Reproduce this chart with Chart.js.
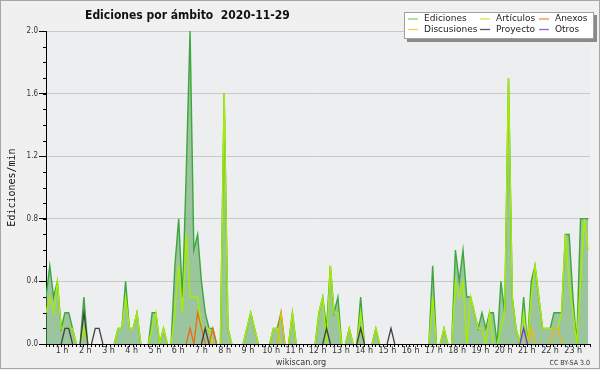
<!DOCTYPE html>
<html>
<head>
<meta charset="utf-8">
<script src="https://cdn.jsdelivr.net/npm/chart.js@4.4.0/dist/chart.umd.min.js"></script>
<style>
  html, body { margin: 0; padding: 0; background: #f0f0f0; }
</style>
</head>
<body>
<canvas id="chart" width="600" height="370"></canvas>
<script>
// Ediciones por ámbito, 2020-11-29
// one value per 10 minute slot (edits per minute), 6 slots per hour, 12 per row
const ediciones = [
  0.3, 0.5, 0.3, 0.4, 0.1, 0.2, 0.2, 0.1, 0, 0, 0.3, 0,
  0, 0, 0, 0, 0, 0, 0, 0.1, 0.1, 0.4, 0.1, 0.1,
  0.2, 0, 0, 0, 0.2, 0.2, 0, 0.1, 0, 0, 0.5, 0.8,
  0.3, 1.1, 2.0, 0.6, 0.7, 0.4, 0.2, 0.1, 0.1, 0, 0, 1.6,
  0.1, 0, 0, 0, 0, 0.1, 0.2, 0.1, 0, 0, 0, 0,
  0.1, 0.1, 0.2, 0, 0, 0.2, 0, 0, 0, 0, 0, 0,
  0.2, 0.3, 0.1, 0.5, 0.2, 0.3, 0, 0, 0.1, 0, 0, 0.3,
  0, 0, 0, 0.1, 0, 0, 0, 0, 0, 0, 0, 0,
  0, 0, 0, 0, 0, 0, 0.5, 0, 0, 0.1, 0, 0,
  0.6, 0.4, 0.6, 0.3, 0.3, 0.2, 0.1, 0.2, 0.1, 0.2, 0.2, 0,
  0.4, 0.2, 1.7, 0.3, 0.1, 0, 0.3, 0, 0.4, 0.5, 0.3, 0.1,
  0.1, 0.1, 0.2, 0.2, 0.2, 0.7, 0.7, 0.3, 0, 0.8, 0.8, 0.8,
];
const articulos = [
  0.2, 0.3, 0.2, 0.4, 0.1, 0.1, 0.1, 0.1, 0, 0, 0.1, 0,
  0, 0, 0, 0, 0, 0, 0, 0.1, 0.1, 0.3, 0.1, 0.1,
  0.2, 0, 0, 0, 0.1, 0.2, 0, 0.1, 0, 0, 0.2, 0.5,
  0.2, 0.7, 0.3, 0.3, 0.3, 0.1, 0.1, 0.1, 0, 0, 0, 1.6,
  0.1, 0, 0, 0, 0, 0.1, 0.2, 0.1, 0, 0, 0, 0,
  0.1, 0.1, 0, 0, 0, 0.2, 0, 0, 0, 0, 0, 0,
  0.2, 0.3, 0, 0.5, 0.2, 0.2, 0, 0, 0.1, 0, 0, 0.2,
  0, 0, 0, 0.1, 0, 0, 0, 0, 0, 0, 0, 0,
  0, 0, 0, 0, 0, 0, 0.3, 0, 0, 0.1, 0, 0,
  0.4, 0.3, 0.4, 0, 0.3, 0.2, 0.1, 0.1, 0, 0.2, 0, 0,
  0.1, 0.2, 1.7, 0.3, 0.1, 0, 0.2, 0, 0.3, 0.5, 0.3, 0.1,
  0.1, 0.1, 0.1, 0.1, 0.2, 0.7, 0.4, 0.2, 0, 0.4, 0.8, 0.6,
];
const anexos = [
  0, 0, 0, 0, 0, 0, 0, 0, 0, 0, 0, 0,
  0, 0, 0, 0, 0, 0, 0, 0, 0, 0, 0, 0,
  0, 0, 0, 0, 0, 0, 0, 0, 0, 0, 0, 0,
  0, 0, 0.1, 0, 0.2, 0.1, 0, 0, 0.1, 0, 0, 0,
  0, 0, 0, 0, 0, 0, 0, 0, 0, 0, 0, 0,
  0, 0, 0, 0, 0, 0, 0, 0, 0, 0, 0, 0,
  0, 0, 0, 0, 0, 0, 0, 0, 0, 0, 0, 0,
  0, 0, 0, 0, 0, 0, 0, 0, 0, 0, 0, 0,
  0, 0, 0, 0, 0, 0, 0, 0, 0, 0, 0, 0,
  0, 0, 0, 0, 0, 0, 0, 0, 0, 0, 0, 0,
  0, 0, 0, 0, 0, 0, 0, 0, 0, 0, 0, 0,
  0, 0, 0, 0, 0, 0, 0, 0, 0, 0, 0, 0,
];
const discusiones = [
  0, 0, 0, 0, 0, 0, 0, 0, 0, 0, 0, 0,
  0, 0, 0, 0, 0, 0, 0, 0, 0, 0, 0, 0,
  0, 0, 0, 0, 0, 0, 0, 0, 0, 0, 0, 0,
  0, 0, 0, 0, 0, 0, 0, 0, 0, 0, 0, 0,
  0, 0, 0, 0, 0, 0, 0, 0, 0, 0, 0, 0,
  0, 0, 0.2, 0, 0, 0, 0, 0, 0, 0, 0, 0,
  0, 0, 0, 0, 0, 0, 0, 0, 0, 0, 0, 0,
  0, 0, 0, 0, 0, 0, 0, 0, 0, 0, 0, 0,
  0, 0, 0, 0, 0, 0, 0, 0, 0, 0, 0, 0,
  0, 0, 0, 0, 0, 0, 0, 0, 0, 0, 0, 0,
  0, 0, 0, 0, 0, 0, 0, 0, 0.1, 0, 0, 0,
  0, 0, 0.1, 0.1, 0, 0, 0, 0, 0, 0, 0, 0,
];
const proyecto = [
  0, 0, 0, 0, 0, 0.1, 0.1, 0, 0, 0, 0.2, 0,
  0, 0.1, 0.1, 0, 0, 0, 0, 0, 0, 0, 0, 0,
  0, 0, 0, 0, 0, 0, 0, 0, 0, 0, 0, 0,
  0, 0, 0, 0, 0, 0, 0.1, 0, 0, 0, 0, 0,
  0, 0, 0, 0, 0, 0, 0, 0, 0, 0, 0, 0,
  0, 0, 0, 0, 0, 0, 0, 0, 0, 0, 0, 0,
  0, 0, 0.1, 0, 0, 0, 0, 0, 0, 0, 0, 0.1,
  0, 0, 0, 0, 0, 0, 0, 0.1, 0, 0, 0, 0,
  0, 0, 0, 0, 0, 0, 0, 0, 0, 0, 0, 0,
  0, 0, 0, 0, 0, 0, 0, 0, 0, 0, 0, 0,
  0, 0, 0, 0, 0, 0, 0, 0, 0, 0, 0, 0,
  0, 0, 0, 0, 0, 0, 0, 0, 0, 0, 0, 0,
];
const otros = [
  0, 0, 0, 0, 0, 0, 0, 0, 0, 0, 0, 0,
  0, 0, 0, 0, 0, 0, 0, 0, 0, 0, 0, 0,
  0, 0, 0, 0, 0, 0, 0, 0, 0, 0, 0, 0,
  0, 0, 0, 0, 0, 0, 0, 0, 0, 0, 0, 0,
  0, 0, 0, 0, 0, 0, 0, 0, 0, 0, 0, 0,
  0, 0, 0, 0, 0, 0, 0, 0, 0, 0, 0, 0,
  0, 0, 0, 0, 0, 0, 0, 0, 0, 0, 0, 0,
  0, 0, 0, 0, 0, 0, 0, 0, 0, 0, 0, 0,
  0, 0, 0, 0, 0, 0, 0, 0, 0, 0, 0, 0,
  0, 0, 0, 0, 0, 0, 0, 0, 0, 0, 0, 0,
  0, 0, 0, 0, 0, 0, 0.1, 0, 0, 0, 0, 0,
  0, 0, 0, 0, 0, 0, 0, 0, 0, 0, 0, 0,
];

// x positions: 10 minute slot index; hour labels 1..23
const slots = ediciones.map((_, i) => i);
const hours = [1, 2, 3, 4, 5, 6, 7, 8, 9, 10, 11, 12, 13, 14, 15, 16, 17, 18, 19, 20, 21, 22, 23];
const yMajorTicks = [0, 0.4, 0.8, 1.2, 1.6, 2.0];
const yMinorStep = 0.1;
const yMax = 2.0;

const chartTitle = 'Ediciones por ámbito  2020-11-29';

const colors = {
  ediciones: '#3da63d',
  edicionesFill: 'rgba(96, 168, 96, 0.58)',
  articulos: '#a8ec00',
  anexos: '#ee6a16',
  discusiones: '#f2b705',
  proyecto: '#404040',
  otros: '#7d2fe0',
};
// legend samples are drawn lighter than the lines
const legendItems = [
  { label: 'Ediciones', color: '#84cc84' },
  { label: 'Artículos', color: '#c8ec50' },
  { label: 'Anexos', color: '#f4845a' },
  { label: 'Discusiones', color: '#f7cd4a' },
  { label: 'Proyecto', color: '#5a5a5a' },
  { label: 'Otros', color: '#9a5cf0' },
];

// hide segments lying on the x axis
const hideZero = {
  borderColor: (ctx) => (ctx.p0.parsed.y === 0 && ctx.p1.parsed.y === 0 ? 'rgba(0,0,0,0)' : undefined),
};

function series(label, data, color, order, width) {
  return {
    label: label,
    data: data,
    borderColor: color,
    borderWidth: width,
    pointRadius: 0,
    tension: 0,
    fill: false,
    order: order,
    segment: hideZero,
  };
}

const backdrop = {
  id: 'backdrop',
  beforeDraw(chart) {
    const { ctx, chartArea } = chart;
    ctx.save();
    ctx.fillStyle = '#f0f0f0';
    ctx.fillRect(0, 0, chart.width, chart.height);
    ctx.fillStyle = '#eceef0';
    ctx.fillRect(chartArea.left, chartArea.top, chartArea.right - chartArea.left, chartArea.bottom - chartArea.top);
    ctx.strokeStyle = '#a6a6a6';
    ctx.lineWidth = 1;
    ctx.strokeRect(0.5, 0.5, chart.width - 1, chart.height - 2);
    ctx.restore();
  },
};

const minorTicks = {
  id: 'minorTicks',
  afterDraw(chart) {
    const y = chart.scales.y;
    const ctx = chart.ctx;
    ctx.save();
    ctx.strokeStyle = '#000';
    ctx.lineWidth = 1;
    ctx.beginPath();
    const n = Math.round(yMax / yMinorStep);
    for (let k = 0; k <= n; k++) {
      const py = Math.round(y.getPixelForValue(k * yMinorStep)) + 0.5;
      ctx.moveTo(y.right - 3, py);
      ctx.lineTo(y.right, py);
    }
    ctx.stroke();
    ctx.restore();
  },
};

const texts = {
  id: 'texts',
  afterDraw(chart) {
    const ctx = chart.ctx;
    ctx.save();
    // title
    ctx.fillStyle = '#111';
    ctx.font = 'bold 12px "DejaVu Sans Condensed", "DejaVu Sans", sans-serif';
    ctx.textAlign = 'left';
    ctx.textBaseline = 'alphabetic';
    ctx.fillText(chartTitle, 85, 19);

    // legend box with shadow
    const box = { x: 404, y: 12, w: 190, h: 27 };
    ctx.fillStyle = '#8a8a8a';
    ctx.fillRect(box.x + 3, box.y + 3, box.w, box.h);
    ctx.fillStyle = '#ffffff';
    ctx.fillRect(box.x, box.y, box.w, box.h);
    ctx.strokeStyle = '#a0a0a0';
    ctx.strokeRect(box.x + 0.5, box.y + 0.5, box.w - 1, box.h - 1);
    const cols = [408, 480, 539];
    const rows = [19, 29.5];
    ctx.font = '9px "DejaVu Sans", sans-serif';
    ctx.textBaseline = 'middle';
    legendItems.forEach((item, i) => {
      const cx = cols[i % 3];
      const cy = rows[Math.floor(i / 3)];
      ctx.strokeStyle = item.color;
      ctx.lineWidth = 1.3;
      ctx.beginPath();
      ctx.moveTo(cx, cy);
      ctx.lineTo(cx + 10, cy);
      ctx.stroke();
      ctx.fillStyle = '#222';
      ctx.fillText(item.label, cx + 16, cy);
    });

    // footer
    ctx.fillStyle = '#333';
    ctx.textBaseline = 'alphabetic';
    ctx.textAlign = 'center';
    ctx.font = '9px "DejaVu Sans Condensed", "DejaVu Sans", sans-serif';
    ctx.fillText('wikiscan.org', 301, 365);
    ctx.textAlign = 'right';
    ctx.font = '7px "DejaVu Sans Condensed", "DejaVu Sans", sans-serif';
    ctx.fillText('CC BY-SA 3.0', 590, 365);
    ctx.restore();
  },
};

new Chart(document.getElementById('chart'), {
  type: 'line',
  data: {
    labels: slots,
    datasets: [
      Object.assign(series('Ediciones', ediciones, colors.ediciones, 5, 1.4), {
        fill: 'origin',
        backgroundColor: colors.edicionesFill,
      }),
      series('Artículos', articulos, colors.articulos, 4, 1.4),
      series('Discusiones', discusiones, colors.discusiones, 3, 1.3),
      series('Anexos', anexos, colors.anexos, 2, 1.3),
      series('Proyecto', proyecto, colors.proyecto, 1, 1.3),
      series('Otros', otros, colors.otros, 0, 1.3),
    ],
  },
  options: {
    responsive: false,
    animation: false,
    events: [],
    layout: { padding: { top: 31, right: 10, bottom: 0, left: 0 } },
    plugins: {
      legend: { display: false },
      title: { display: false },
      tooltip: { enabled: false },
    },
    scales: {
      x: {
        type: 'linear',
        position: 'bottom',
        min: 0,
        max: slots.length - 0.5,
        z: 1,
        ticks: { display: false, stepSize: 1 },
        grid: { drawOnChartArea: false, tickLength: 3, tickColor: '#000' },
        border: { color: '#000', width: 1 },
        afterFit: (scale) => { scale.height = 2; },
      },
      hourLabels: {
        type: 'linear',
        position: 'bottom',
        min: 0.3115,
        max: 23.72,
        afterBuildTicks: (scale) => { scale.ticks = hours.map((h) => ({ value: h })); },
        ticks: {
          padding: 0,
          color: '#333',
          font: { family: '"DejaVu Sans", sans-serif', size: 8 },
          callback: (v) => v + ' h',
          maxRotation: 0,
          autoSkip: false,
        },
        grid: { display: false, drawTicks: false },
        border: { display: false },
        afterFit: (scale) => { scale.height = 24; },
      },
      y: {
        min: 0,
        max: yMax,
        afterBuildTicks: (scale) => { scale.ticks = yMajorTicks.map((v) => ({ value: v })); },
        ticks: {
          padding: 1,
          color: '#333',
          font: { family: '"DejaVu Sans Condensed", "DejaVu Sans", sans-serif', size: 8 },
          callback: (v) => v.toFixed(1),
        },
        grid: {
          color: (ctx) => (ctx.tick && ctx.tick.value === 0 ? 'rgba(0,0,0,0)' : '#c8c8c8'),
          tickColor: '#000',
          tickLength: 7,
        },
        border: { color: '#000', width: 1 },
        title: {
          display: true,
          text: 'Ediciones/min',
          color: '#111',
          font: { family: '"DejaVu Sans Mono", monospace', size: 10 },
          padding: { top: 6, bottom: 0 },
        },
        afterFit: (scale) => { scale.width = 46; },
      },
    },
  },
  plugins: [backdrop, minorTicks, texts],
});
</script>
</body>
</html>
